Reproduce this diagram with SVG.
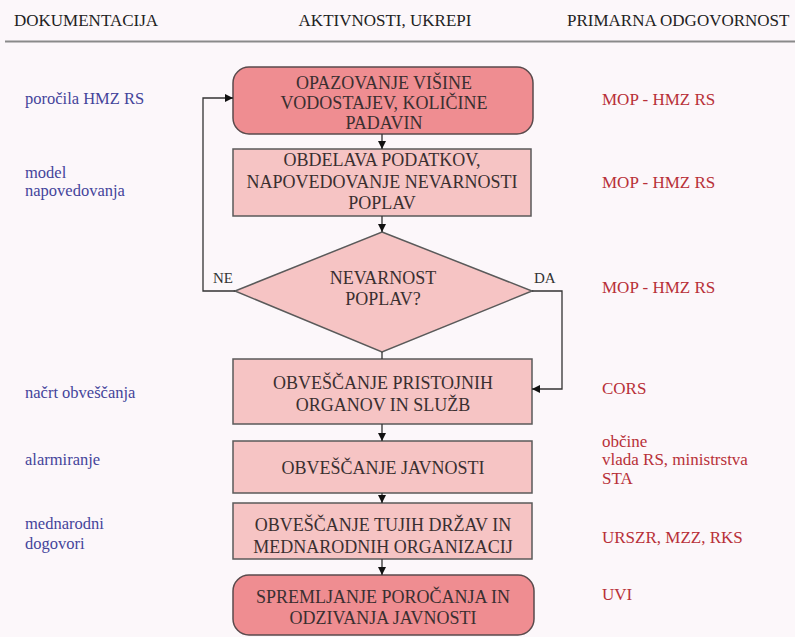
<svg xmlns="http://www.w3.org/2000/svg" width="795" height="637" viewBox="0 0 795 637" font-family="'Liberation Serif', 'DejaVu Serif', serif">
  <style>
    .hdr { font-size: 17px; fill: #222; }
    .node-dark { fill: #ef8d91; stroke: #5a4a4c; stroke-width: 1.5; }
    .node-light { fill: #f6c4c4; stroke: #5a5a5a; stroke-width: 1.5; }
    .ntxt { font-size: 18px; fill: #3a2f30; text-anchor: middle; }
    .doc { font-size: 16.5px; fill: #44449a; }
    .resp { font-size: 17px; fill: #b83038; }
    .lbl { font-size: 15px; fill: #333; }
    .conn { fill: none; stroke: #333; stroke-width: 1.3; }
  </style>
  <defs>
    <marker id="arrow" viewBox="0 0 10 10" refX="10" refY="5" markerWidth="8" markerHeight="8" markerUnits="userSpaceOnUse" orient="auto">
      <path d="M0,0 L10,5 L0,10 z" fill="#111"/>
    </marker>
  </defs>

  <rect x="0" y="0" width="795" height="637" fill="#fcf7fa"/>

  <!-- column headers -->
  <g id="header">
    <text class="hdr" x="14" y="26">DOKUMENTACIJA</text>
    <text class="hdr" x="385" y="26" text-anchor="middle">AKTIVNOSTI, UKREPI</text>
    <text class="hdr" x="567" y="26">PRIMARNA ODGOVORNOST</text>
    <line x1="5" y1="41.5" x2="795" y2="41.5" stroke="#8a8a8a" stroke-width="2"/>
  </g>

  <!-- flowchart nodes -->
  <g id="n-opazovanje">
    <rect class="node-dark" x="233" y="67" width="300" height="67" rx="16" ry="16"/>
    <text class="ntxt" x="384" y="89">OPAZOVANJE VIŠINE</text>
    <text class="ntxt" x="384" y="109">VODOSTAJEV, KOLIČINE</text>
    <text class="ntxt" x="384" y="129">PADAVIN</text>
  </g>

  <g id="n-obdelava">
    <rect class="node-light" x="233" y="149" width="298" height="67"/>
    <text class="ntxt" x="382" y="166">OBDELAVA PODATKOV,</text>
    <text class="ntxt" x="382" y="188">NAPOVEDOVANJE NEVARNOSTI</text>
    <text class="ntxt" x="382" y="209">POPLAV</text>
  </g>

  <g id="n-nevarnost">
    <polygon class="node-light" points="382,232 532,291 382,352 235,291"/>
    <text class="ntxt" x="383" y="284">NEVARNOST</text>
    <text class="ntxt" x="383" y="305">POPLAV?</text>
  </g>

  <g id="n-obvescanje-organov">
    <rect class="node-light" x="233" y="359" width="299" height="65"/>
    <text class="ntxt" x="383" y="389">OBVEŠČANJE PRISTOJNIH</text>
    <text class="ntxt" x="383" y="411">ORGANOV IN SLUŽB</text>
  </g>

  <g id="n-obvescanje-javnosti">
    <rect class="node-light" x="233" y="441" width="299" height="52"/>
    <text class="ntxt" x="383" y="474">OBVEŠČANJE JAVNOSTI</text>
  </g>

  <g id="n-obvescanje-drzav">
    <rect class="node-light" x="233" y="503" width="299" height="56"/>
    <text class="ntxt" x="383" y="531">OBVEŠČANJE TUJIH DRŽAV IN</text>
    <text class="ntxt" x="383" y="553">MEDNARODNIH ORGANIZACIJ</text>
  </g>

  <g id="n-spremljanje">
    <rect class="node-dark" x="233" y="575" width="301" height="60" rx="16" ry="16"/>
    <text class="ntxt" x="383" y="603">SPREMLJANJE POROČANJA IN</text>
    <text class="ntxt" x="383" y="624">ODZIVANJA JAVNOSTI</text>
  </g>

  <!-- connectors -->
  <g id="connectors">
    <line class="conn" x1="382" y1="134" x2="382" y2="149" marker-end="url(#arrow)"/>
    <line class="conn" x1="382" y1="216" x2="382" y2="232" marker-end="url(#arrow)"/>
    <line class="conn" x1="382" y1="352" x2="382" y2="359"/>
    <line class="conn" x1="382" y1="424" x2="382" y2="441" marker-end="url(#arrow)"/>
    <line class="conn" x1="382" y1="493" x2="382" y2="503" marker-end="url(#arrow)"/>
    <line class="conn" x1="382" y1="559" x2="382" y2="575" marker-end="url(#arrow)"/>
    <polyline class="conn" points="235,291 203,291 203,98 233,98" marker-end="url(#arrow)"/>
    <polyline class="conn" points="532,291 562,291 562,389 532,389" marker-end="url(#arrow)"/>
    <text class="lbl" x="213" y="283">NE</text>
    <text class="lbl" x="534" y="283">DA</text>
  </g>

  <!-- documentation column -->
  <g id="documentation">
    <text class="doc" x="25" y="104">poročila HMZ RS</text>
    <text class="doc" x="25" y="178">model</text>
    <text class="doc" x="25" y="196">napovedovanja</text>
    <text class="doc" x="25" y="398">načrt obveščanja</text>
    <text class="doc" x="25" y="465">alarmiranje</text>
    <text class="doc" x="25" y="529">mednarodni</text>
    <text class="doc" x="25" y="549">dogovori</text>
  </g>

  <!-- responsibility column -->
  <g id="responsibility">
    <text class="resp" x="602" y="105">MOP - HMZ RS</text>
    <text class="resp" x="602" y="188">MOP - HMZ RS</text>
    <text class="resp" x="602" y="293">MOP - HMZ RS</text>
    <text class="resp" x="602" y="394">CORS</text>
    <text class="resp" x="602" y="447">občine</text>
    <text class="resp" x="602" y="465">vlada RS, ministrstva</text>
    <text class="resp" x="602" y="484">STA</text>
    <text class="resp" x="602" y="543">URSZR, MZZ, RKS</text>
    <text class="resp" x="602" y="600">UVI</text>
  </g>
</svg>
